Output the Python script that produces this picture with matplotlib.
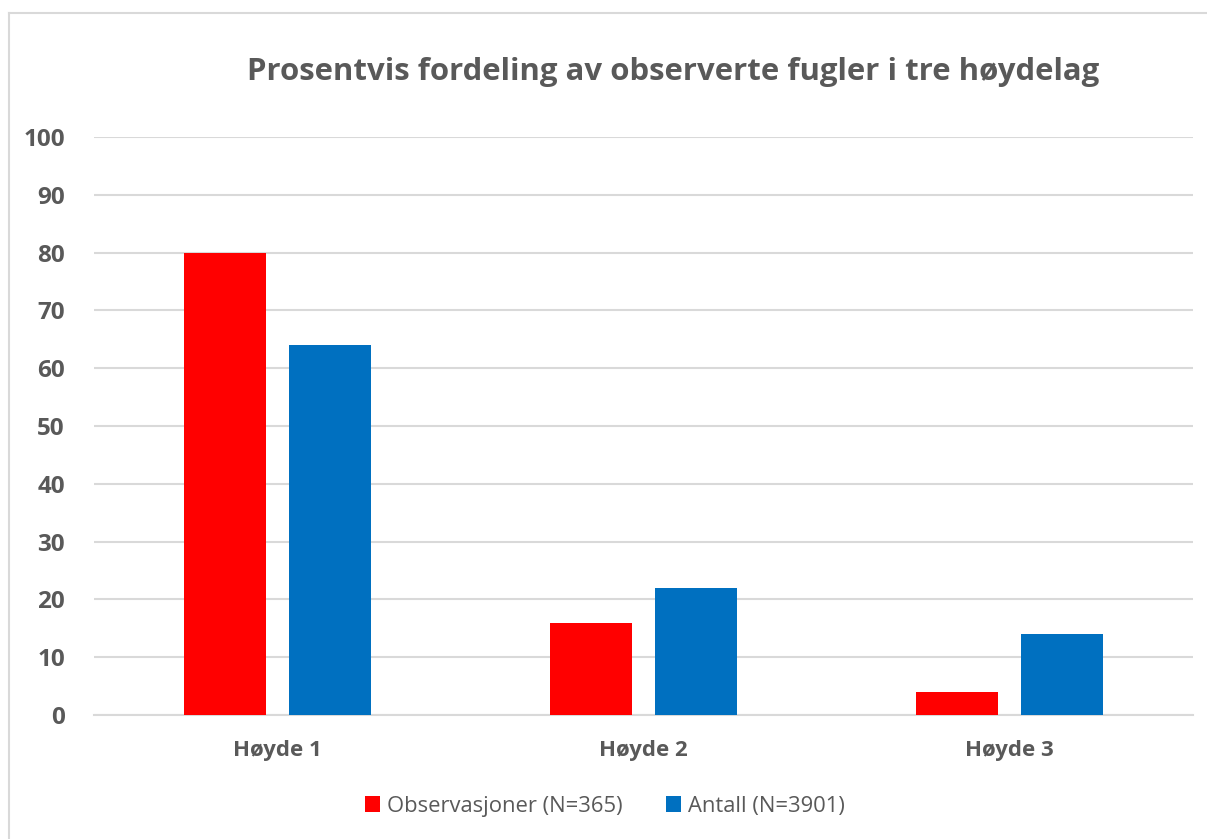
import numpy as np
import matplotlib
matplotlib.use("Agg")
import matplotlib.pyplot as plt
from matplotlib.lines import Line2D

categories = ["Høyde 1", "Høyde 2", "Høyde 3"]
observasjoner = [80, 16, 4]
antall = [64, 22, 14]
series_names = ["Observasjoner (N=365)", "Antall (N=3901)"]
yticks = [0, 10, 20, 30, 40, 50, 60, 70, 80, 90, 100]

plt.rcParams['font.family'] = ['Open Sans', 'DejaVu Sans']
grey = '#595959'

fig = plt.figure(figsize=(12.07, 8.39), dpi=100)
ax = fig.add_axes([0.0779, 0.1478, 0.9105, 0.6889])

x = np.arange(len(categories))
w = 0.224
ax.bar(x - 0.1435, observasjoner, width=w, color='#ff0000', label=series_names[0], zorder=3)
ax.bar(x + 0.1435, antall, width=w, color='#0070c0', label=series_names[1], zorder=3)

ax.set_xlim(-0.5, 2.5)
ax.set_ylim(0, 100)
ax.set_yticks(yticks)
ax.set_xticks(x)
ax.set_xticklabels(categories)
ax.yaxis.grid(True, color='#d9d9d9', linewidth=1.5, zorder=0)
for s in ax.spines.values():
    s.set_visible(False)
ax.spines['bottom'].set_visible(True)
ax.spines['bottom'].set_color('#d9d9d9')
ax.spines['bottom'].set_linewidth(1.5)
ax.tick_params(length=0)
ax.tick_params(axis='y', pad=21)
ax.tick_params(axis='x', pad=18)
for lab in ax.get_yticklabels() + ax.get_xticklabels():
    lab.set_fontweight('bold')
    lab.set_color(grey)
for lab in ax.get_yticklabels():
    lab.set_fontsize(17.5)
for lab in ax.get_xticklabels():
    lab.set_fontsize(16)

fig.text(0.5576, 0.914, "Prosentvis fordeling av observerte fugler i tre høydelag",
         ha='center', va='center', fontsize=22.4, fontweight='bold', color=grey)

leg = fig.legend(loc='center', bbox_to_anchor=(0.501, 0.039), ncol=2, frameon=False,
                 fontsize=15.8, handlelength=0.7, handleheight=0.7, handletextpad=0.3,
                 columnspacing=2.0, labelcolor=grey)

# chart frame (top and left edges)
fig.add_artist(Line2D([9/1207, 1.0], [1 - 13/839, 1 - 13/839], color='#d9d9d9', linewidth=1.5))
fig.add_artist(Line2D([9/1207, 9/1207], [0.0, 1 - 13/839], color='#d9d9d9', linewidth=1.5))

fig.savefig("out.png", dpi=100)
